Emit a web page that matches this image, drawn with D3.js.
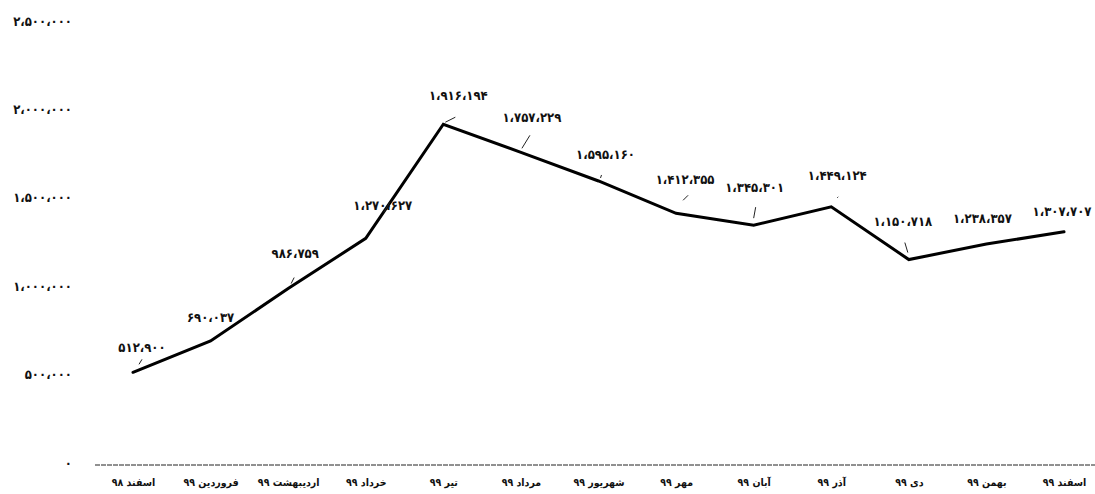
<!DOCTYPE html>
<html lang="fa">
<head>
<meta charset="utf-8">
<script src="https://cdn.jsdelivr.net/npm/d3@7/dist/d3.min.js"></script>
<style>
  html, body { margin: 0; padding: 0; background: #fff; }
  svg { display: block; }
  text { font-family: "DejaVu Sans Condensed", "DejaVu Sans", sans-serif; font-weight: bold; fill: #111; }
</style>
</head>
<body>
<svg id="chart" width="1095" height="494"></svg>
<script>
// Months, from اسفند ۹۸ to اسفند ۹۹
const months = [
  "اسفند ۹۸", "فروردین ۹۹", "اردیبهشت ۹۹", "خرداد ۹۹", "تیر ۹۹", "مرداد ۹۹",
  "شهریور ۹۹", "مهر ۹۹", "آبان ۹۹", "آذر ۹۹", "دی ۹۹", "بهمن ۹۹", "اسفند ۹۹"
];

// Monthly values
const values = [
  512900, 690037, 986759, 1270627, 1916194, 1757229,
  1595160, 1412355, 1345301, 1449124, 1150718, 1238357, 1307707
];

// Y axis ticks
const yTicks = [0, 500000, 1000000, 1500000, 2000000, 2500000];

// Placement of each value label relative to its point: [dx, dy]
const labelOffsets = [
  [9, -25], [0, -24], [7, -35], [17, -33], [15, -29], [11, -35], [7, -26],
  [9, -34], [1, -38], [6, -31], [-6, -38], [-4, -26], [-2, -20]
];

// Short leader strokes between label and point: [x1, y1, x2, y2] relative to the point
const leaders = [
  [6, -8, 9, -13], null, [3, -5, 6, -11], [18, -26, 24, -36], [2, -2, 12, -7],
  [1, -4, 9, -17], [2, -3, 3, -6], [7, -13, 12, -18], [0, -7, 2, -18],
  [6, -9, 7, -10], [-4, -17, -1, -7], null, null
];

const persianDigits = "۰۱۲۳۴۵۶۷۸۹";
const toPersian = s => String(s).replace(/[0-9]/g, d => persianDigits[+d]).replace(/,/g, "،");
const fmt = v => toPersian(d3.format(",")(v));

const svg = d3.select("#chart");

const x = d3.scalePoint().domain(months).range([133, 1064]);
const y = d3.scaleLinear().domain([0, 2500000]).range([463, 21]);

const fontStack = "\"DejaVu Sans Condensed\", \"DejaVu Sans\", sans-serif";

// Y axis labels (no axis line, no ticks)
const yAxis = svg.append("g")
  .attr("transform", "translate(72,0)")
  .call(d3.axisLeft(y).tickValues(yTicks).tickSize(0).tickPadding(0).tickFormat(fmt));
yAxis.select(".domain").remove();
yAxis.selectAll("text")
  .style("font-family", fontStack)
  .style("font-weight", "bold")
  .style("font-size", "13px")
  .attr("fill", "#111");

// Baseline
svg.append("line")
  .attr("x1", 95).attr("x2", 1095)
  .attr("y1", y(0) + 2).attr("y2", y(0) + 2)
  .attr("stroke", "#222").attr("stroke-width", 1)
  .attr("stroke-dasharray", "5,1");

// Month labels
const xAxis = svg.append("g")
  .attr("transform", `translate(0,${y(0) + 2})`)
  .call(d3.axisBottom(x).tickSize(0).tickPadding(14));
xAxis.select(".domain").remove();
xAxis.selectAll("text")
  .attr("direction", "rtl")
  .style("font-family", fontStack)
  .style("font-weight", "bold")
  .style("font-size", "10.5px")
  .attr("fill", "#111");

// The series line
const line = d3.line()
  .x((d, i) => x(months[i]))
  .y(d => y(d));

svg.append("path")
  .datum(values)
  .attr("d", line)
  .attr("fill", "none")
  .attr("stroke", "#000")
  .attr("stroke-width", 3)
  .attr("stroke-linejoin", "miter")
  .attr("stroke-linecap", "round");

// Leader strokes
svg.append("g").selectAll("line")
  .data(values.map((v, i) => ({ v, i, l: leaders[i] })).filter(d => d.l))
  .join("line")
  .attr("x1", d => x(months[d.i]) + d.l[0])
  .attr("y1", d => y(d.v) + d.l[1])
  .attr("x2", d => x(months[d.i]) + d.l[2])
  .attr("y2", d => y(d.v) + d.l[3])
  .attr("stroke", "#222")
  .attr("stroke-width", 1);

// Value labels
svg.append("g").selectAll("text")
  .data(values)
  .join("text")
  .attr("x", (d, i) => x(months[i]) + labelOffsets[i][0])
  .attr("y", (d, i) => y(d) + labelOffsets[i][1])
  .attr("text-anchor", "middle")
  .attr("dominant-baseline", "central")
  .style("font-size", "13px")
  .text(fmt);
</script>
</body>
</html>
